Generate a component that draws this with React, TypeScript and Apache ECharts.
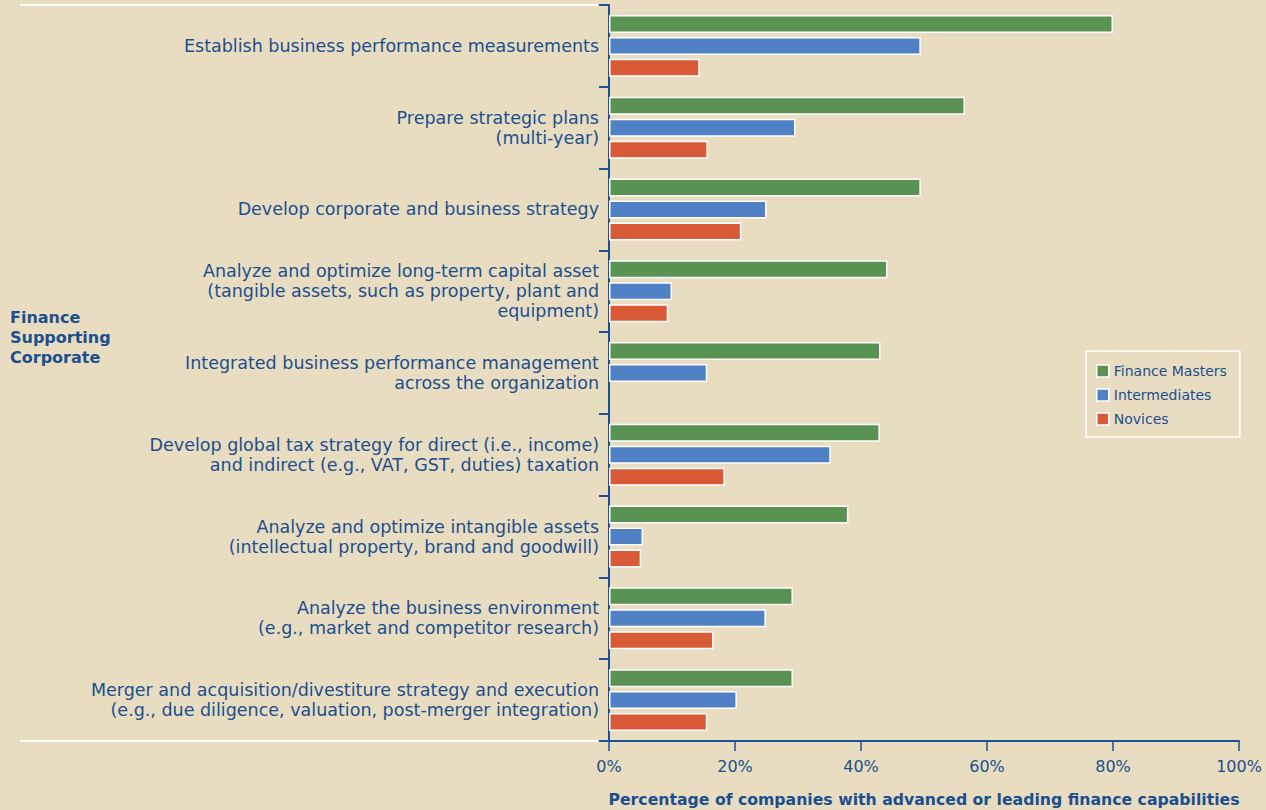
import React, { useEffect, useRef } from "react";
import * as echarts from "echarts";

const categories = [
  "Establish business performance measurements",
  "Prepare strategic plans\n(multi-year)",
  "Develop corporate and business strategy",
  "Analyze and optimize long-term capital asset\n(tangible assets, such as property, plant and\nequipment)",
  "Integrated business performance management\nacross the organization",
  "Develop global tax strategy for direct (i.e., income)\nand indirect (e.g., VAT, GST, duties) taxation",
  "Analyze and optimize intangible assets\n(intellectual property, brand and goodwill)",
  "Analyze the business environment\n(e.g., market and competitor research)",
  "Merger and acquisition/divestiture strategy and execution\n(e.g., due diligence, valuation, post-merger integration)",
];
const financeMasters = [80.0, 56.5, 49.5, 44.2, 43.1, 43.0, 38.0, 29.2, 29.2];
const intermediates = [49.5, 29.6, 25.0, 10.0, 15.6, 35.2, 5.4, 24.9, 20.3];
const novices: (number | null)[] = [14.4, 15.7, 21.0, 9.4, null, 18.4, 5.1, 16.6, 15.6];
const xTicks = [0, 20, 40, 60, 80, 100];

const BG = "#e9ddc1";
const TEXT = "#1b4f8f";
const AXIS = "#1f4f93";
const GREEN = "#5a9253";
const BLUE = "#4f81c4";
const RED = "#d85a36";
const FONT = "'DejaVu Sans', 'Noto Sans', sans-serif";

export default function App() {
  const ref = useRef<HTMLDivElement>(null);
  useEffect(() => {
    if (!ref.current) return;
    const chart = echarts.init(ref.current, null, { renderer: "svg" });
    const barCommon = {
      type: "bar" as const,
      barWidth: 18,
      barGap: "22%",
      itemStyle: { borderColor: "#ffffff", borderWidth: 1.5 },
    };
    chart.setOption({
      animation: false,
      backgroundColor: BG,
      textStyle: { fontFamily: FONT },
      grid: {
        left: 609,
        right: 27,
        top: 5,
        bottom: 69,
        containLabel: false,
        outerBoundsMode: "none",
      },
      legend: {
        orient: "vertical",
        left: 1086,
        top: 351,
        padding: [12, 13, 10, 10],
        itemWidth: 12,
        itemHeight: 12,
        itemGap: 8,
        itemTextGap: 9,
        borderColor: "#ffffff",
        borderWidth: 1.5,
        icon: "rect",
        itemStyle: { borderColor: "#ffffff", borderWidth: 1.5 },
        textStyle: { color: TEXT, fontSize: 14, fontFamily: FONT, lineHeight: 16 },
        data: ["Finance Masters", "Intermediates", "Novices"],
      },
      xAxis: {
        type: "value",
        min: 0,
        max: 100,
        interval: 20,
        axisLine: { show: true, lineStyle: { color: AXIS, width: 2 } },
        axisTick: { show: true, length: 10, lineStyle: { color: AXIS, width: 1.5 } },
        splitLine: { show: false },
        axisLabel: {
          color: TEXT,
          fontSize: 16,
          margin: 17,
          fontFamily: FONT,
          formatter: (v: number) => (xTicks.includes(v) ? `${v}%` : ""),
        },
        name: "Percentage of companies with advanced or leading finance capabilities",
        nameLocation: "middle",
        nameGap: 50,
        nameTextStyle: { color: TEXT, fontSize: 15.7, fontWeight: "bold", fontFamily: FONT },
      },
      yAxis: {
        type: "category",
        inverse: true,
        data: categories,
        axisLine: { show: true, lineStyle: { color: AXIS, width: 2 } },
        axisTick: { show: true, length: 10, lineStyle: { color: AXIS, width: 2 } },
        axisLabel: {
          color: TEXT,
          fontSize: 17.5,
          lineHeight: 20,
          margin: 10,
          align: "right",
          fontFamily: FONT,
        },
      },
      graphic: [
        {
          type: "line",
          shape: { x1: 20, y1: 5, x2: 598, y2: 5 },
          style: { stroke: "#ffffff", lineWidth: 2 },
        },
        {
          type: "line",
          shape: { x1: 20, y1: 741, x2: 598, y2: 741 },
          style: { stroke: "#ffffff", lineWidth: 2 },
        },
        {
          type: "text",
          left: 10,
          top: 307,
          style: {
            text: "Finance\nSupporting\nCorporate",
            fill: TEXT,
            font: `bold 16px ${FONT}`,
            lineHeight: 20,
          },
        },
      ],
      series: [
        { ...barCommon, name: "Finance Masters", data: financeMasters, itemStyle: { ...barCommon.itemStyle, color: GREEN } },
        { ...barCommon, name: "Intermediates", data: intermediates, itemStyle: { ...barCommon.itemStyle, color: BLUE } },
        { ...barCommon, name: "Novices", data: novices, itemStyle: { ...barCommon.itemStyle, color: RED } },
      ],
    });
    return () => chart.dispose();
  }, []);
  return (
    <div
      ref={ref}
      style={{ position: "fixed", left: 0, top: 0, width: 1266, height: 810 }}
    />
  );
}
